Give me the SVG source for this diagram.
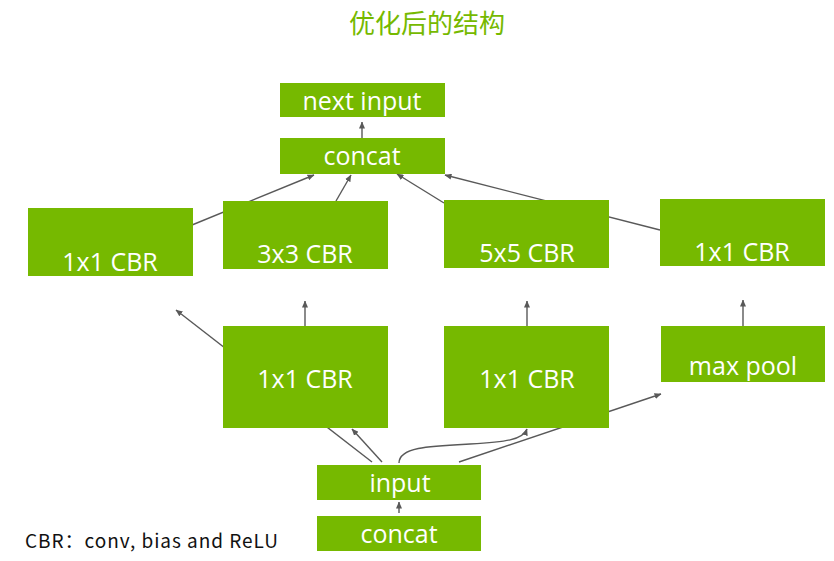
<svg xmlns="http://www.w3.org/2000/svg" width="834" height="561" viewBox="0 0 834 561">
<style>
.box{fill:#76b900}
.lbl{font-family:"Open Sans","DejaVu Sans",sans-serif;font-size:25px;fill:#ffffff;text-anchor:middle}
.ln{stroke:#595959;stroke-width:1.4;fill:none}
.title{font-family:"Noto Sans CJK SC",sans-serif;font-size:26px;fill:#76b900;text-anchor:middle}
.note{font-family:"Noto Sans CJK SC",sans-serif;font-size:19px;fill:#111111}
</style>
<defs>
<marker id="ah" markerWidth="7" markerHeight="6" refX="6.5" refY="3" orient="auto" markerUnits="userSpaceOnUse">
<path d="M0,0 L7,3 L0,6 z" fill="#595959"/>
</marker>
</defs>
<rect width="834" height="561" fill="#ffffff"/>
<text class="title" x="427" y="33">优化后的结构</text>
<g id="connectors">
<line class="ln" x1="362" y1="138" x2="362" y2="122" marker-end="url(#ah)"/>
<line class="ln" x1="192" y1="225" x2="314" y2="175" marker-end="url(#ah)"/>
<line class="ln" x1="336" y1="201" x2="351" y2="175" marker-end="url(#ah)"/>
<line class="ln" x1="444" y1="203" x2="397" y2="174" marker-end="url(#ah)"/>
<line class="ln" x1="660" y1="230" x2="445" y2="175" marker-end="url(#ah)"/>
<line class="ln" x1="372" y1="462" x2="176" y2="310" marker-end="url(#ah)"/>
<line class="ln" x1="305" y1="326" x2="305" y2="301" marker-end="url(#ah)"/>
<line class="ln" x1="527" y1="326" x2="527" y2="301" marker-end="url(#ah)"/>
<line class="ln" x1="743" y1="326" x2="743" y2="300" marker-end="url(#ah)"/>
<line class="ln" x1="382" y1="462" x2="352" y2="429" marker-end="url(#ah)"/>
<path class="ln" d="M399,463 C399,447 430,446 470,444 C505,442 523,440 527,429" marker-end="url(#ah)"/>
<line class="ln" x1="459" y1="462" x2="661" y2="394" marker-end="url(#ah)"/>
<line class="ln" x1="399" y1="513" x2="399" y2="502" marker-end="url(#ah)"/>
</g>
<g id="next_input"><rect class="box" x="280" y="83" width="165" height="34"/><text class="lbl" x="362" y="110">next input</text></g>
<g id="concat_top"><rect class="box" x="280" y="138" width="165" height="36"/><text class="lbl" x="362" y="165">concat</text></g>
<g id="cbr1x1_a"><rect class="box" x="28" y="208" width="165" height="68"/><text class="lbl" x="110" y="271">1x1 CBR</text></g>
<g id="cbr3x3"><rect class="box" x="223" y="201" width="165" height="68"/><text class="lbl" x="305" y="263">3x3 CBR</text></g>
<g id="cbr5x5"><rect class="box" x="444" y="200" width="165" height="68"/><text class="lbl" x="527" y="262">5x5 CBR</text></g>
<g id="cbr1x1_d"><rect class="box" x="660" y="199" width="165" height="67"/><text class="lbl" x="742" y="261">1x1 CBR</text></g>
<g id="cbr1x1_b"><rect class="box" x="223" y="326" width="165" height="102"/><text class="lbl" x="305" y="388">1x1 CBR</text></g>
<g id="cbr1x1_c"><rect class="box" x="444" y="326" width="165" height="102"/><text class="lbl" x="527" y="388">1x1 CBR</text></g>
<g id="max_pool"><rect class="box" x="661" y="326" width="164" height="56"/><text class="lbl" x="743" y="375">max pool</text></g>
<g id="input"><rect class="box" x="317" y="465" width="164" height="35"/><text class="lbl" x="400" y="492">input</text></g>
<g id="concat_bottom"><rect class="box" x="317" y="516" width="164" height="35"/><text class="lbl" x="399" y="543">concat</text></g>
<text class="note" x="25" y="548" textLength="253" lengthAdjust="spacing">CBR：conv, bias and ReLU</text>
</svg>
